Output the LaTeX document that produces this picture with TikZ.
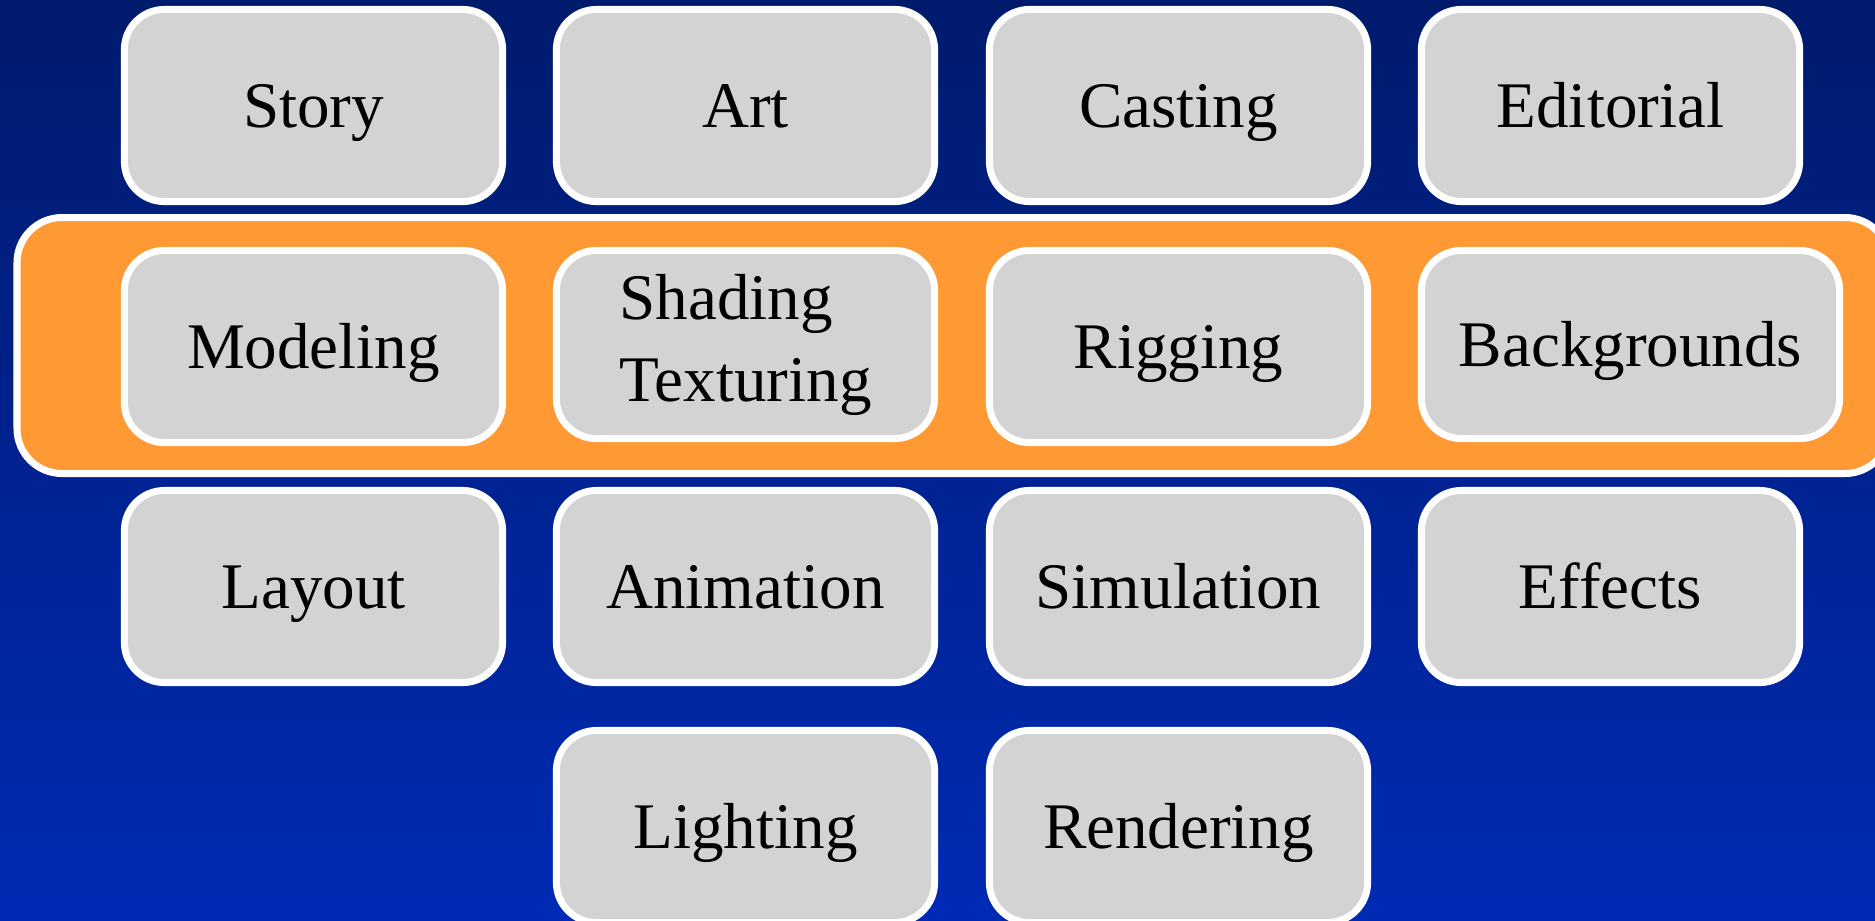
\documentclass[tikz,border=0pt]{standalone}
\usepackage{fontspec}
\setmainfont{Liberation Serif}

\definecolor{navytop}{RGB}{0,26,108}
\definecolor{navybot}{RGB}{0,42,180}
\definecolor{bandorange}{RGB}{255,153,51}
\definecolor{boxgray}{RGB}{211,211,211}

\tikzset{
	stage/.style={draw=white, line width=0.07cm, fill=boxgray, rounded corners=0.4cm,
		minimum width=3.78cm, minimum height=1.92cm, inner sep=0pt,
		font=\fontsize{18.5}{23.3}\selectfont},
	oneline/.style={text height=0.43cm, text depth=0pt},
	band/.style={draw=white, line width=0.07cm, fill=bandorange, rounded corners=0.45cm},
}

\begin{document}
\begin{tikzpicture}[x=0.01cm, y=-0.01cm]
		\clip (0,0) rectangle (1875,920);
		\shade[top color=navytop, bottom color=navybot] (0,0) rectangle (1875,920);
		\draw[band] (17,217.5) rectangle (1890,473.5);
		
		\foreach \x/\name/\lbl in {313.5/story/Story, 745.5/art/Art, 1178.5/casting/Casting, 1610.5/editorial/Editorial} {
			\node[stage, oneline] (\name) at (\x, 105.5) {\lbl};
		}
		\node[stage, oneline] (modeling) at (313.5, 346.5) {Modeling};
		\node[stage, minimum height=1.88cm, align=left] (shading) at (745.5, 344.5) {Shading\\Texturing};
		\node[stage, oneline] (rigging) at (1178.5, 346.5) {Rigging};
		\node[stage, oneline, minimum width=4.18cm, minimum height=1.88cm] (backgrounds) at (1630.5, 344.5) {Backgrounds};
		\foreach \x/\name/\lbl in {313.5/layout/Layout, 745.5/animation/Animation, 1178.5/simulation/Simulation, 1610.5/effects/Effects} {
			\node[stage, oneline] (\name) at (\x, 586.5) {\lbl};
		}
		\foreach \x/\name/\lbl in {745.5/lighting/Lighting, 1178.5/rendering/Rendering} {
			\node[stage, oneline] (\name) at (\x, 826.5) {\lbl};
		}
	\end{tikzpicture}
\end{document}
